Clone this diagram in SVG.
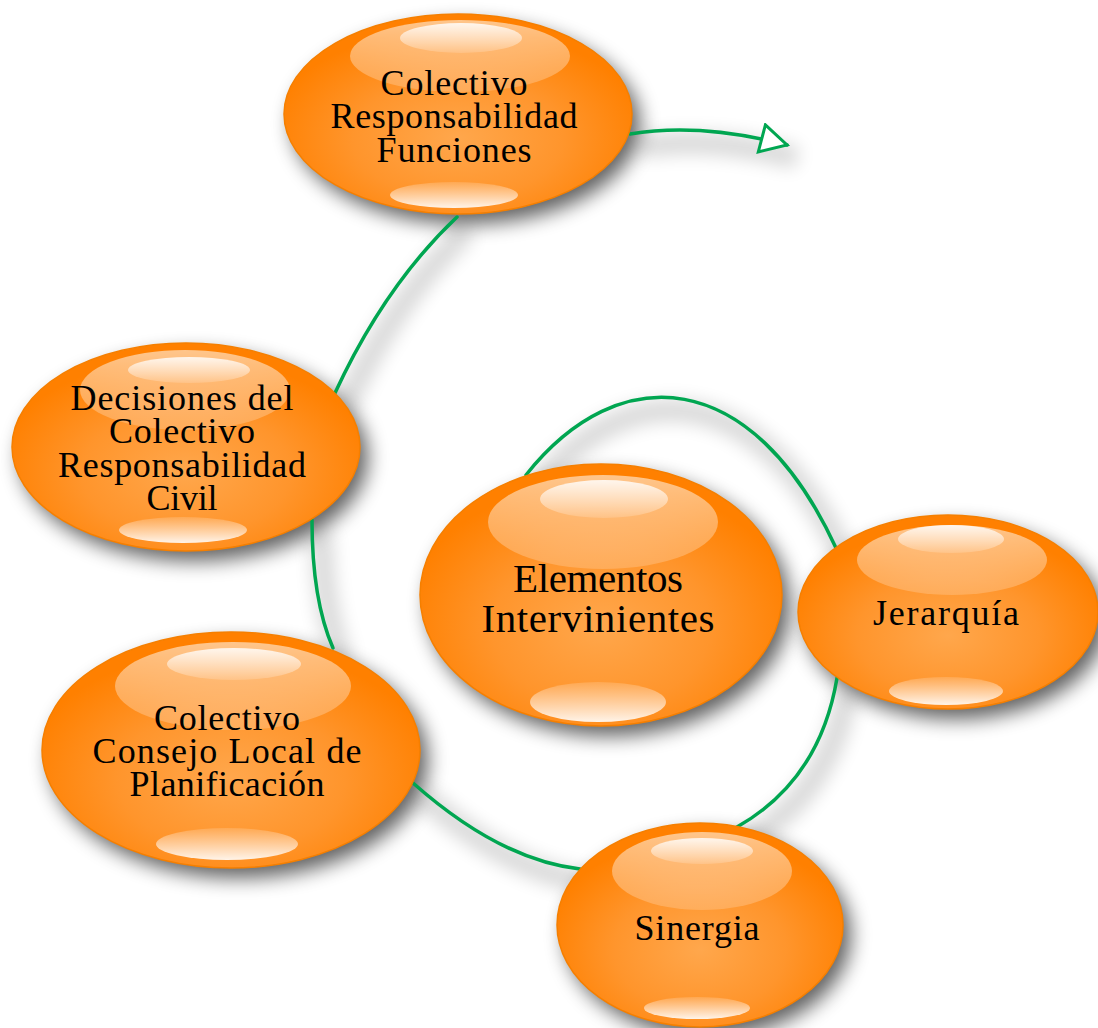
<svg xmlns="http://www.w3.org/2000/svg" width="1098" height="1028" viewBox="0 0 1098 1028">
  <defs>
    <radialGradient id="body" cx="50%" cy="62%" r="55%">
      <stop offset="0%" stop-color="#FFA74C"/>
      <stop offset="55%" stop-color="#FF952C"/>
      <stop offset="100%" stop-color="#FF8000"/>
    </radialGradient>
    <linearGradient id="hlBig" x1="0" y1="0" x2="0" y2="1">
      <stop offset="0%" stop-color="#FFFFFF" stop-opacity="0.55"/>
      <stop offset="100%" stop-color="#FFFFFF" stop-opacity="0.18"/>
    </linearGradient>
    <linearGradient id="hlSmall" x1="0" y1="0" x2="0" y2="1">
      <stop offset="0%" stop-color="#FFFFFF" stop-opacity="0.85"/>
      <stop offset="100%" stop-color="#FFFFFF" stop-opacity="0.15"/>
    </linearGradient>
    <linearGradient id="hlBottom" x1="0" y1="0" x2="0" y2="1">
      <stop offset="0%" stop-color="#FFFFFF" stop-opacity="0.15"/>
      <stop offset="100%" stop-color="#FFFFFF" stop-opacity="0.9"/>
    </linearGradient>
    <filter id="shadowBlur" filterUnits="userSpaceOnUse" x="-50" y="-50" width="1200" height="1130">
      <feGaussianBlur stdDeviation="10"/>
    </filter>
    <filter id="lineShadowBlur" filterUnits="userSpaceOnUse" x="-50" y="-50" width="1200" height="1130">
      <feGaussianBlur stdDeviation="9"/>
    </filter>
    <marker id="openArrow" markerUnits="userSpaceOnUse" viewBox="0 0 32 32" refX="29" refY="16" markerWidth="32" markerHeight="32" orient="auto">
      <path d="M3,2 L29,16 L3,30 Z" fill="#FFFFFF" stroke="#00A651" stroke-width="3" stroke-linejoin="miter"/>
    </marker>
  </defs>
  <style>
    .body { fill: url(#body); stroke: #F57F00; stroke-width: 1.5; }
    .hlBig { fill: url(#hlBig); }
    .hlSmall { fill: url(#hlSmall); }
    .hlBottom { fill: url(#hlBottom); }
    .shadow { fill: #000000; opacity: 0.62; filter: url(#shadowBlur); }
    .lshadow { fill: none; stroke: #000000; stroke-width: 22; opacity: 0.15; filter: url(#lineShadowBlur); }
    .conn { fill: none; stroke: #00A651; stroke-width: 3.5; stroke-linecap: round; }
    .label { font-family: "Liberation Serif", "Times New Roman", serif; font-size: 36px; fill: #000000; text-anchor: middle; }
    .big { font-size: 41px; }
  </style>

  <rect width="1098" height="1028" fill="#FFFFFF"/>

  <g id="shadows">
    <g transform="translate(10,13)">
      <path class="lshadow" d="M 630 134 C 690 124, 745 134, 787 145"/>
      <path class="lshadow" d="M 457 217 Q 385 285 335 393"/>
      <path class="lshadow" d="M 312 520 Q 312 600 333 648"/>
      <path class="lshadow" d="M 413 783 Q 500 860 580 869"/>
      <path class="lshadow" d="M 737 827 Q 820 780 837 678"/>
      <path class="lshadow" d="M 526 475 C 619 358, 752 366, 836 548"/>
    </g>
    <g transform="translate(8,10)">
      <ellipse class="shadow" cx="458" cy="114" rx="174" ry="100"/>
      <ellipse class="shadow" cx="186" cy="447" rx="174" ry="104"/>
      <ellipse class="shadow" cx="601" cy="595" rx="181" ry="131"/>
      <ellipse class="shadow" cx="948" cy="612" rx="150" ry="97"/>
      <ellipse class="shadow" cx="231" cy="750" rx="189" ry="118"/>
      <ellipse class="shadow" cx="700" cy="925" rx="143" ry="102"/>
    </g>
  </g>

  <g id="connectors">
    <path class="conn" d="M 630 134 C 690 124, 745 134, 787 145" marker-end="url(#openArrow)"/>
    <path class="conn" d="M 457 217 Q 385 285 335 393"/>
    <path class="conn" d="M 312 520 Q 312 600 333 648"/>
    <path class="conn" d="M 413 783 Q 500 860 580 869"/>
    <path class="conn" d="M 737 827 Q 820 780 837 678"/>
    <path class="conn" d="M 526 475 C 619 358, 752 366, 836 548"/>
  </g>

  <g id="node-colectivo-responsabilidad">
    <ellipse class="body" cx="458" cy="114" rx="174" ry="100"/>
    <ellipse class="hlBig" cx="460" cy="56" rx="110" ry="36"/>
    <ellipse class="hlSmall" cx="461" cy="38" rx="61" ry="15"/>
    <ellipse class="hlBottom" cx="454" cy="195" rx="64" ry="13"/>
    <text class="label" x="454" y="95" textLength="147">Colectivo</text>
    <text class="label" x="454" y="128" textLength="247">Responsabilidad</text>
    <text class="label" x="454" y="162" textLength="155">Funciones</text>
  </g>

  <g id="node-decisiones">
    <ellipse class="body" cx="186" cy="447" rx="174" ry="104"/>
    <ellipse class="hlBig" cx="185" cy="390" rx="105" ry="40"/>
    <ellipse class="hlSmall" cx="189" cy="370" rx="61" ry="13"/>
    <ellipse class="hlBottom" cx="183" cy="530" rx="64" ry="13"/>
    <text class="label" x="182" y="410" textLength="223">Decisiones del</text>
    <text class="label" x="182" y="443" textLength="146">Colectivo</text>
    <text class="label" x="182" y="477" textLength="248">Responsabilidad</text>
    <text class="label" x="182" y="510" textLength="71">Civil</text>
  </g>

  <g id="node-elementos">
    <ellipse class="body" cx="601" cy="595" rx="181" ry="131"/>
    <ellipse class="hlBig" cx="603" cy="522" rx="115" ry="47"/>
    <ellipse class="hlSmall" cx="604" cy="499" rx="64" ry="19"/>
    <ellipse class="hlBottom" cx="598" cy="702" rx="68" ry="20"/>
    <text class="label big" x="598" y="592" textLength="170">Elementos</text>
    <text class="label big" x="598" y="632" textLength="233">Intervinientes</text>
  </g>

  <g id="node-jerarquia">
    <ellipse class="body" cx="948" cy="612" rx="150" ry="97"/>
    <ellipse class="hlBig" cx="952" cy="560" rx="95" ry="35"/>
    <ellipse class="hlSmall" cx="951" cy="539" rx="53" ry="14"/>
    <ellipse class="hlBottom" cx="946" cy="691" rx="57" ry="14"/>
    <text class="label" x="946" y="625" textLength="146">Jerarquía</text>
  </g>

  <g id="node-consejo">
    <ellipse class="body" cx="231" cy="750" rx="189" ry="118"/>
    <ellipse class="hlBig" cx="233" cy="686" rx="118" ry="44"/>
    <ellipse class="hlSmall" cx="234" cy="664" rx="67" ry="16"/>
    <ellipse class="hlBottom" cx="227" cy="844" rx="71" ry="16"/>
    <text class="label" x="227" y="730" textLength="146">Colectivo</text>
    <text class="label" x="227" y="763" textLength="269">Consejo Local de</text>
    <text class="label" x="227" y="796" textLength="195">Planificación</text>
  </g>

  <g id="node-sinergia">
    <ellipse class="body" cx="700" cy="925" rx="143" ry="102"/>
    <ellipse class="hlBig" cx="702" cy="871" rx="90" ry="39"/>
    <ellipse class="hlSmall" cx="702" cy="851" rx="51" ry="13"/>
    <ellipse class="hlBottom" cx="697" cy="1008" rx="53" ry="11"/>
    <text class="label" x="697" y="940" textLength="125">Sinergia</text>
  </g>
</svg>
